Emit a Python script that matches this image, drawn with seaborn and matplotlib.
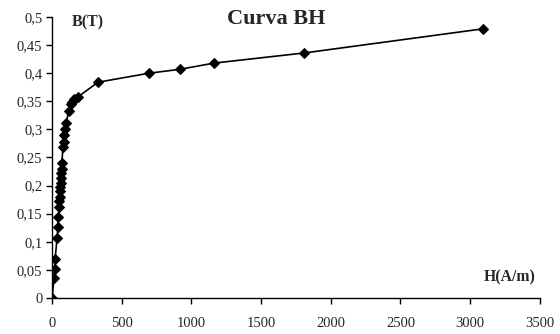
import matplotlib
matplotlib.use('Agg')
import matplotlib.pyplot as plt
import matplotlib.ticker as mticker
import seaborn as sns
import pandas as pd

# BH curve
H = [0, 14, 20, 22, 36, 42, 45, 50, 53, 55, 58, 60, 62, 64, 66, 68, 70,
     78, 82, 86, 90, 100, 120, 135, 143, 158, 186, 330, 696, 918, 1162, 1808, 3092]
B = [0, 0.035, 0.052, 0.070, 0.107, 0.126, 0.144, 0.162, 0.172, 0.180, 0.190,
     0.198, 0.205, 0.213, 0.222, 0.230, 0.240, 0.268, 0.278, 0.290, 0.300,
     0.311, 0.333, 0.345, 0.349, 0.354, 0.358, 0.384, 0.400, 0.407, 0.418,
     0.436, 0.479]
x_ticks = [0, 500, 1000, 1500, 2000, 2500, 3000, 3500]
y_ticks = [0, 0.05, 0.1, 0.15, 0.2, 0.25, 0.3, 0.35, 0.4, 0.45, 0.5]

df = pd.DataFrame({'H': H, 'B': B})

sns.set_style('ticks')
plt.rcParams['font.family'] = ['Liberation Serif', 'DejaVu Serif']

fig = plt.figure(figsize=(5.6, 3.34), dpi=100)
ax = fig.add_axes([0.093, 0.108, 0.871, 0.841])

sns.lineplot(data=df, x='H', y='B', sort=False, color='black', linewidth=1.2,
             marker='D', markersize=5.5, markeredgecolor='black', ax=ax)

ax.set_xlim(0, 3500)
ax.set_ylim(0, 0.5)
ax.set_xticks(x_ticks)
ax.set_yticks(y_ticks)
ax.yaxis.set_major_formatter(mticker.FuncFormatter(
    lambda v, p: ('%g' % round(v, 2)).replace('.', ',')))
ax.tick_params(labelsize=10.5, length=4, width=1, color='black')
ax.tick_params(axis='x', pad=10)
ax.tick_params(axis='y', pad=3)
ax.set_xlabel('')
ax.set_ylabel('')
for s in ['top', 'right']:
    ax.spines[s].set_visible(False)
for s in ['left', 'bottom']:
    ax.spines[s].set_color('black')
    ax.spines[s].set_linewidth(1)

fig.text(0.493, 0.943, 'Curva BH', ha='center', va='center',
         fontsize=16, fontweight='bold')
ax.text(143, 0.491, 'B(T)', ha='left', va='center', fontsize=11.5, fontweight='bold')
ax.text(3472, 0.036, 'H(A/m)', ha='right', va='center', fontsize=11.3, fontweight='bold')

fig.savefig('out.png', dpi=100)
